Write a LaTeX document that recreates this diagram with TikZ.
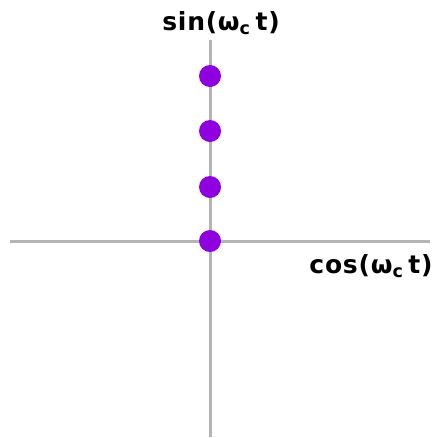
\documentclass[tikz,border=0pt]{standalone}
\usepackage{fontspec}
\setmainfont{Liberation Sans}
\newfontfamily\lblfont[LetterSpace=3]{DejaVu Sans}
\usepackage{xcolor}
\definecolor{axisgray}{HTML}{B4B4B4}
\definecolor{dotviolet}{HTML}{8E00DE}
\usetikzlibrary{positioning}

\begin{document}
\begin{tikzpicture}[x=1pt,y=-1pt,
  axis/.style={draw=axisgray,line width=3pt},
  pt/.style={circle,fill=dotviolet,inner sep=0pt,minimum size=22pt},
  lbl/.style={font=\lblfont\bfseries\fontsize{25}{29}\selectfont,inner sep=0pt}]
\useasboundingbox (0,0) rectangle (438,437);
% axes
\coordinate (o) at (210,241);
\coordinate (left) at (10,241);
\coordinate (right) at (430,241);
\coordinate (top) at (210,40);
\coordinate (bottom) at (210,437);
\draw[axis] (left) -- (right);
\draw[axis] (top) -- (bottom);
% constellation points
\node[pt] (s0) at (o) {};
\node[pt] (s1) at (210,187) {};
\node[pt] (s2) at (210,131) {};
\node[pt] (s3) at (210,76) {};
% labels
\node[lbl] (sinlbl) at (221,23) {sin(ω\textsubscript{c}\hspace{5pt}t)};
\node[lbl] (coslbl) at (371,266) {cos(ω\textsubscript{c}\hspace{5pt}t)};
\end{tikzpicture}
\end{document}
